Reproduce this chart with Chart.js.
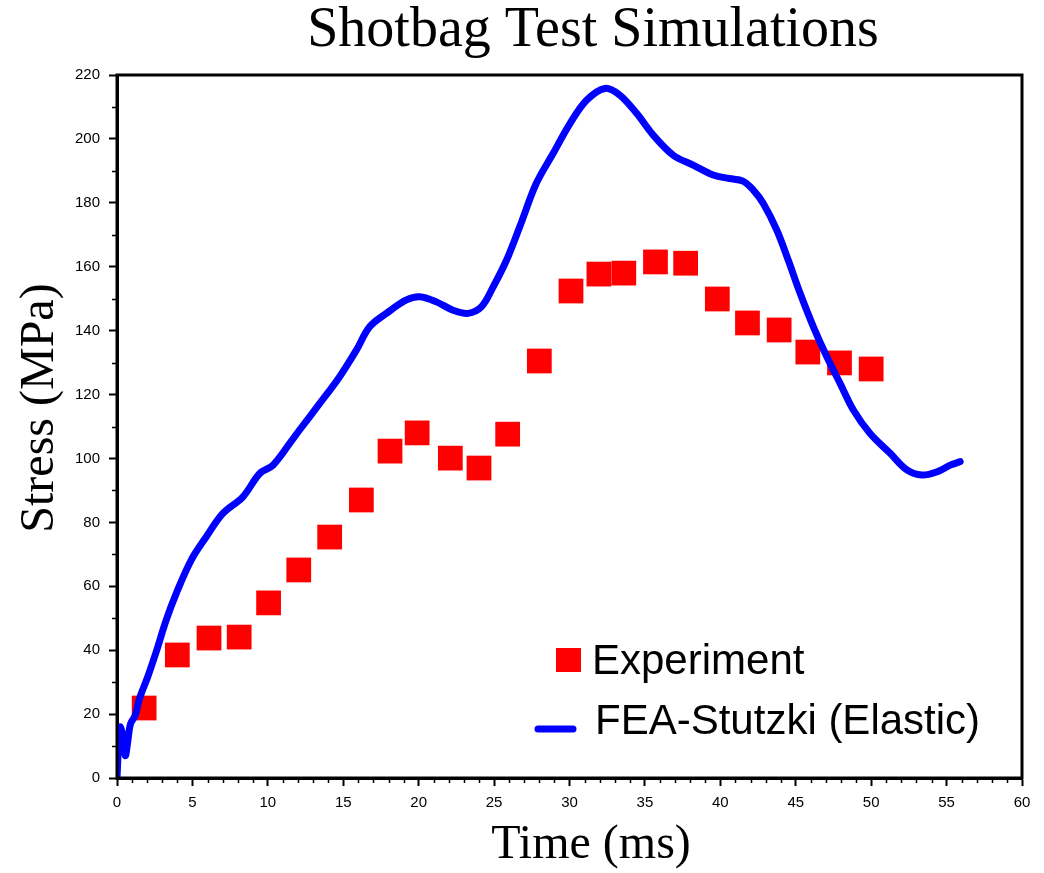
<!DOCTYPE html>
<html>
<head>
<meta charset="utf-8">
<script src="https://cdn.jsdelivr.net/npm/chart.js@4/dist/chart.umd.min.js"></script>
<style>
  html, body { margin: 0; padding: 0; background: #fff; }
  #wrap { width: 1044px; height: 873px; position: relative; }
</style>
</head>
<body>
<div id="wrap"><canvas id="c" width="1044" height="873"></canvas></div>
<script>
// ---- Data ----
const chartTitle = 'Shotbag Test Simulations';
const xTitle = 'Time (ms)';
const yTitle = 'Stress (MPa)';
const expLabel = 'Experiment';
const feaLabel = 'FEA-Stutzki (Elastic)';

const expTime   = [1.8, 4.0, 6.1, 8.1, 10.05, 12.05, 14.1, 16.2, 18.1, 19.9, 22.1, 24.0, 25.9, 28.0, 30.1, 31.95, 33.6, 35.7, 37.7, 39.8, 41.8, 43.9, 45.8, 47.9, 50.0];
const expStress = [21.9, 38.5, 43.8, 44.1, 54.8, 65.1, 75.4, 87.0, 102.3, 108.0, 100.1, 97.0, 107.6, 130.5, 152.4, 157.7, 158.0, 161.5, 161.1, 149.9, 142.4, 140.2, 133.3, 129.9, 128.0];

const feaTime   = [0, 0.1, 0.2, 0.35, 0.55, 0.7, 0.9, 1.2, 1.5, 2.04, 2.6, 3.26, 3.93, 4.92, 5.92, 7.02, 8.35, 9.46, 10.34, 11.45, 12.1, 13.44, 14.76, 15.87, 16.75, 17.86, 19.19, 20.07, 21.18, 22.28, 23.28, 24.17, 24.94, 25.83, 26.7, 27.8, 28.92, 30.03, 31.13, 32.35, 33.34, 34.45, 35.55, 36.88, 38.2, 39.53, 40.6, 41.5, 42.19, 42.85, 43.74, 44.5, 45.29, 46.17, 47.06, 47.94, 48.83, 49.93, 51.26, 52.37, 53.36, 54.36, 55.24, 55.9];
const feaStress = [0, 10, 16, 14, 7, 11, 17, 19.5, 25, 31.7, 39.5, 49.4, 57.8, 68.2, 75.5, 82.8, 88.0, 95.3, 97.9, 104.7, 108.9, 117.2, 125.6, 133.9, 141.2, 145.4, 149.6, 150.6, 149.0, 146.4, 145.4, 147.5, 153.7, 162.1, 172.5, 186.1, 195.5, 204.8, 212.1, 215.8, 213.7, 208.0, 201.2, 194.9, 191.8, 188.7, 187.6, 186.8, 184.0, 179.8, 171.5, 162.1, 151.7, 141.2, 131.8, 123.5, 115.1, 107.8, 101.6, 96.4, 94.8, 95.8, 97.9, 99.0];

const xMin = 0, xMax = 60, xMajor = 5, xMinor = 1;
const yMin = 0, yMax = 220, yMajor = 20, yMinor = 10;

// ---- Build datasets ----
const expPoints = expTime.map((t, i) => ({ x: t, y: expStress[i] }));
const feaPoints = feaTime.map((t, i) => ({ x: t, y: feaStress[i] }));

const RED = '#ff0000';
const BLUE = '#0000ff';
const SERIF = '"Liberation Serif", "Times New Roman", serif';
const SANS = '"Liberation Sans", Arial, sans-serif';

const decorPlugin = {
  id: 'decor',
  afterDraw(chart) {
    const ctx = chart.ctx;
    const a = chart.chartArea;
    const xs = chart.scales.x, ys = chart.scales.y;
    ctx.save();
    // frame
    ctx.strokeStyle = '#000';
    ctx.lineWidth = 3;
    ctx.strokeRect(a.left, a.top, a.right - a.left, a.bottom - a.top);
    // minor ticks
    ctx.lineWidth = 1.5;
    ctx.beginPath();
    for (let v = xMin; v <= xMax + 1e-9; v += xMinor) {
      if (Math.abs(v % xMajor) < 1e-9) continue;
      const px = Math.round(xs.getPixelForValue(v)) + 0.5;
      ctx.moveTo(px, a.bottom); ctx.lineTo(px, a.bottom + 5);
    }
    for (let v = yMin; v <= yMax + 1e-9; v += yMinor) {
      if (Math.abs(v % yMajor) < 1e-9) continue;
      const py = Math.round(ys.getPixelForValue(v)) + 0.5;
      ctx.moveTo(a.left, py); ctx.lineTo(a.left - 5, py);
    }
    ctx.stroke();

    // titles
    ctx.fillStyle = '#000';
    ctx.textAlign = 'center';
    ctx.textBaseline = 'alphabetic';
    ctx.font = '56px ' + SERIF;
    ctx.fillText(chartTitle, 593, 46);
    ctx.font = '48px ' + SERIF;
    ctx.fillText(xTitle, 591, 858);
    ctx.save();
    ctx.translate(53, 408);
    ctx.rotate(-Math.PI / 2);
    ctx.fillText(yTitle, 0, 0);
    ctx.restore();

    // legend
    const ds0 = chart.data.datasets[1]; // Experiment
    const ds1 = chart.data.datasets[0]; // FEA
    ctx.fillStyle = ds0.backgroundColor;
    ctx.fillRect(556, 648, 25, 24);
    ctx.strokeStyle = ds1.borderColor;
    ctx.lineWidth = 7;
    ctx.lineCap = 'round';
    ctx.beginPath();
    ctx.moveTo(538, 729); ctx.lineTo(573, 729);
    ctx.stroke();
    ctx.fillStyle = '#000';
    ctx.textAlign = 'left';
    ctx.font = '42px ' + SANS;
    ctx.fillText(ds0.label, 592, 674);
    ctx.fillText(ds1.label, 595, 734);
    ctx.restore();
  }
};

new Chart(document.getElementById('c'), {
  type: 'scatter',
  data: {
    datasets: [
      {
        label: feaLabel,
        type: 'line',
        data: feaPoints,
        borderColor: BLUE,
        backgroundColor: BLUE,
        borderWidth: 7,
        pointRadius: 0,
        tension: 0.35,
        borderCapStyle: 'round',
        borderJoinStyle: 'round',
        showLine: true,
        fill: false,
        order: 0
      },
      {
        label: expLabel,
        data: expPoints,
        pointStyle: 'rect',
        pointRadius: 17.5,
        pointHoverRadius: 17.5,
        backgroundColor: RED,
        borderColor: RED,
        borderWidth: 0,
        order: 1
      }
    ]
  },
  options: {
    responsive: false,
    animation: false,
    devicePixelRatio: 1,
    layout: { padding: { left: 0, top: 75, right: 22, bottom: 0 } },
    plugins: {
      legend: { display: false },
      title: { display: false },
      tooltip: { enabled: false }
    },
    scales: {
      x: {
        type: 'linear',
        min: xMin, max: xMax,
        afterFit: s => { s.height = 95; },
        border: { display: true, color: '#000', width: 3 },
        grid: { drawOnChartArea: false, drawTicks: true, tickLength: 8, tickColor: '#000', tickWidth: 2 },
        ticks: { stepSize: xMajor, color: '#000', font: { family: SANS, size: 15 }, padding: 8, maxRotation: 0 }
      },
      y: {
        type: 'linear',
        min: yMin, max: yMax,
        afterFit: s => { s.width = 117; },
        border: { display: true, color: '#000', width: 3 },
        grid: { drawOnChartArea: false, drawTicks: true, tickLength: 8, tickColor: '#000', tickWidth: 2 },
        ticks: { stepSize: yMajor, color: '#000', font: { family: SANS, size: 15 }, padding: 9 }
      }
    }
  },
  plugins: [decorPlugin]
});
</script>
</body>
</html>
